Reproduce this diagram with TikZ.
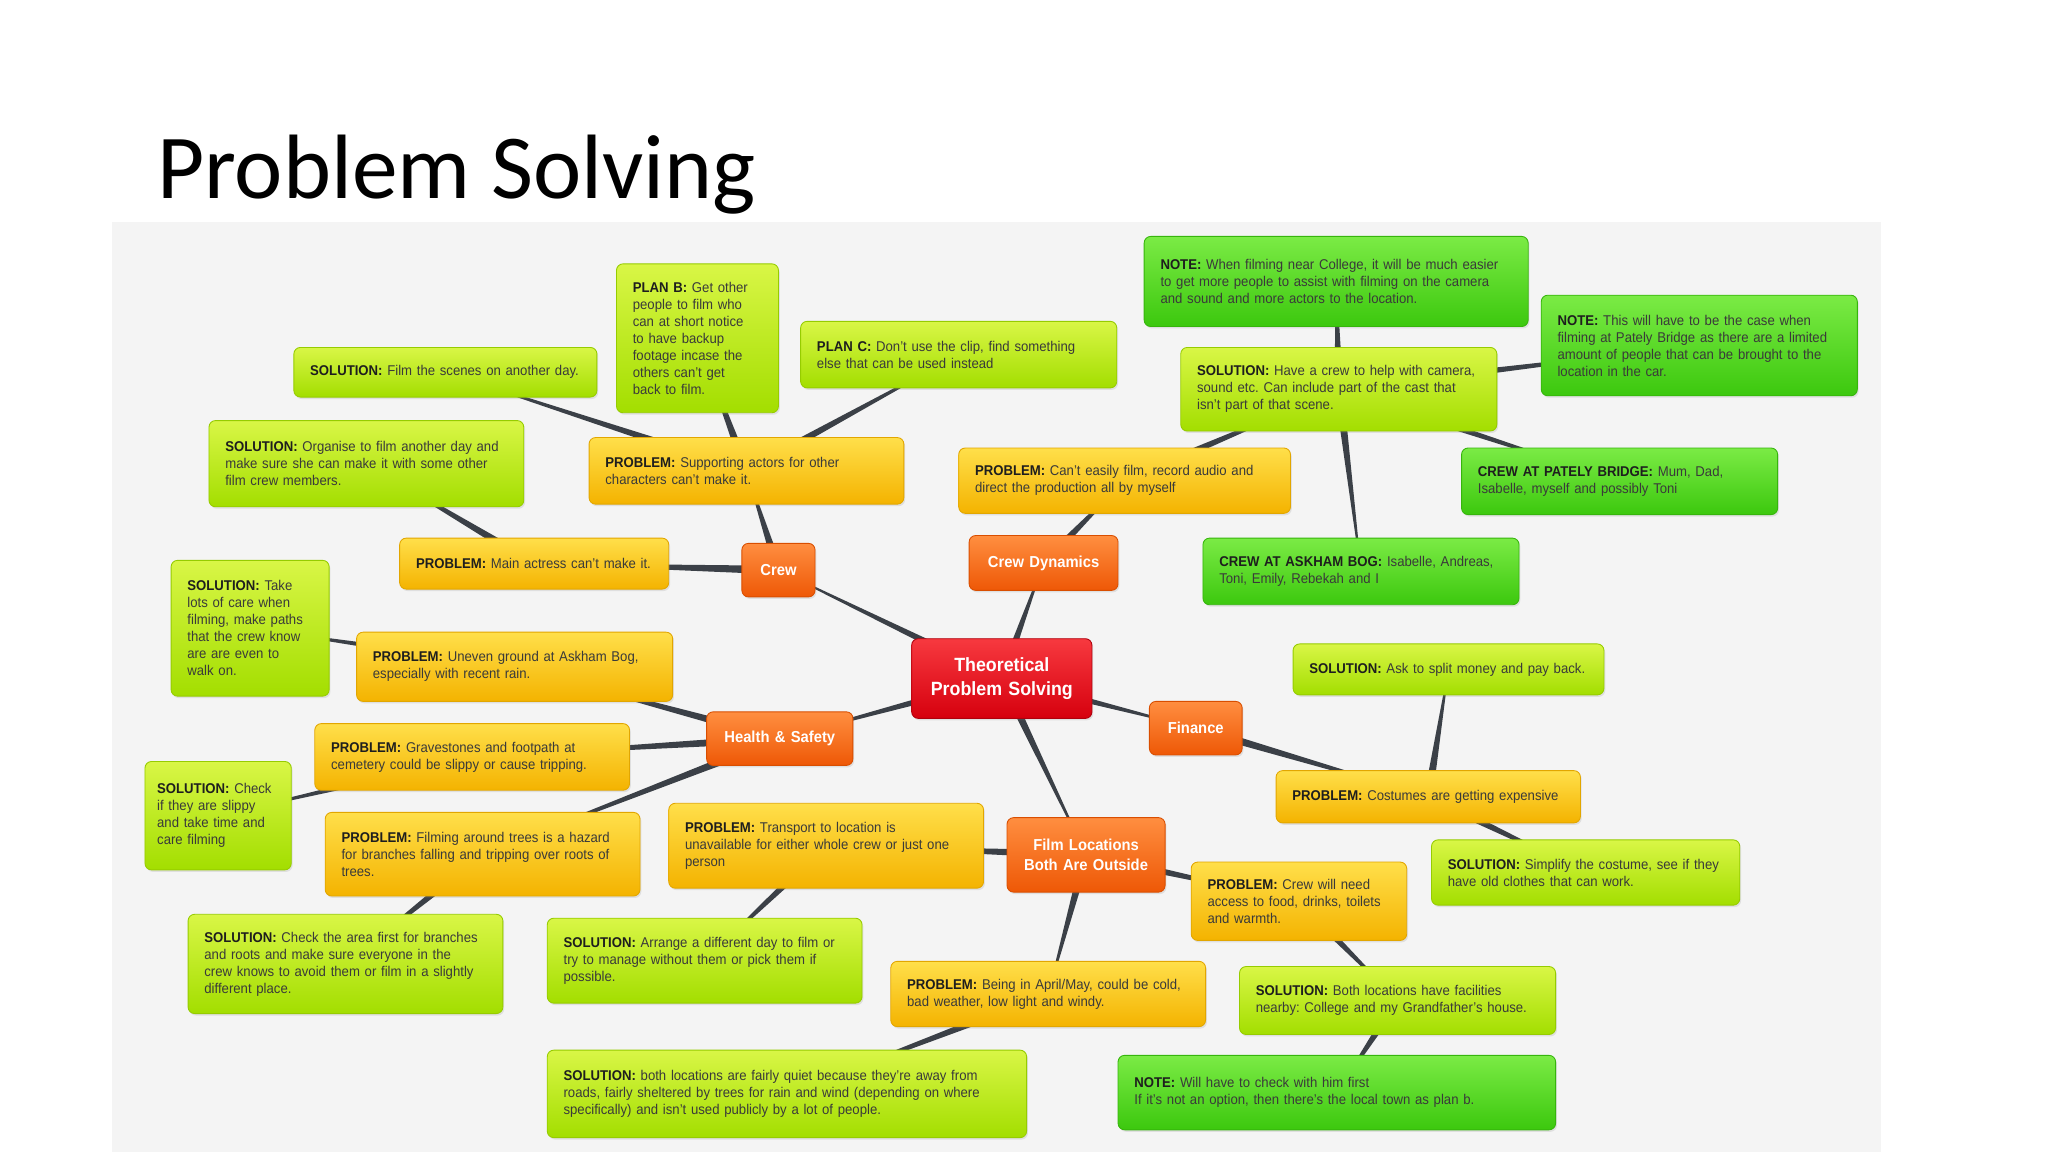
\documentclass[tikz,border=0pt]{standalone}
\usepackage{fontspec}
\setmainfont{Liberation Sans}[FakeStretch=0.93]
\newfontfamily\titlefont{Carlito}
\usetikzlibrary{calc,shadows}
\pgfdeclarelayer{bg}
\pgfdeclarelayer{lnk}
\pgfsetlayers{bg,lnk,main}
\frenchspacing
\definecolor{panel}{HTML}{F4F4F4}
\definecolor{txt}{HTML}{3A3A3A}
\definecolor{lbc}{HTML}{1E1E1E}
\definecolor{linkc}{HTML}{3B4047}
\definecolor{probT}{HTML}{FFDF4A}
\definecolor{probB}{HTML}{F4B300}
\definecolor{probD}{HTML}{E2A600}
\definecolor{solT}{HTML}{D9F646}
\definecolor{solB}{HTML}{A3DE00}
\definecolor{solD}{HTML}{96CC00}
\definecolor{noteT}{HTML}{7BEB45}
\definecolor{noteB}{HTML}{3CC80E}
\definecolor{noteD}{HTML}{36B50C}
\definecolor{catT}{HTML}{FF8E40}
\definecolor{catB}{HTML}{EE5806}
\definecolor{catD}{HTML}{D94E00}
\definecolor{rootT}{HTML}{F7393F}
\definecolor{rootB}{HTML}{D6000E}
\definecolor{rootD}{HTML}{B0000C}
\newcommand\lb[1]{{\bfseries\color{lbc}#1}}
\newcommand\mmbox[7]{%
  \pgfmathsetmacro\mmw{(#5-#3)*0.6}%
  \pgfmathsetmacro\mmh{(#6-#4)*0.6}%
  \pgfmathsetmacro\mmt{(#5-#3)*0.6-15}%
  \node[minimum width=\mmw pt, minimum height=\mmh pt, text width=\mmt pt, #1] (#2) at ({(#3+#5)/2},{(#4+#6)/2}) {#7};}
\newcommand\lnk[2]{\fill[linkc] ($(#1.center)!2pt!90:(#2.center)$) -- ($(#2.center)!0.2pt!-90:(#1.center)$) -- ($(#2.center)!0.2pt!90:(#1.center)$) -- ($(#1.center)!2pt!-90:(#2.center)$) -- cycle;}
\tikzset{
  box/.style={rounded corners=3pt, align=left, inner xsep=7.5pt, inner ysep=2pt, line width=0.4pt,
    font=\fontsize{6.5}{7.8}\selectfont, text=txt,
    drop shadow={opacity=0.18, shadow xshift=0.6pt, shadow yshift=-0.9pt}},
  prob/.style={box, draw=probD, top color=probT, bottom color=probB},
  sol/.style={box, draw=solD, top color=solT, bottom color=solB},
  note/.style={box, draw=noteD, top color=noteT, bottom color=noteB},
  cat/.style={box, align=center, text=white, draw=catD, top color=catT, bottom color=catB,
    font=\bfseries\fontsize{7.3}{9}\selectfont},
  root/.style={box, align=center, text=white, draw=rootD, top color=rootT, bottom color=rootB,
    font=\bfseries\fontsize{8.8}{11.4}\selectfont},
}
\begin{document}
\begin{tikzpicture}[x=0.6pt,y=-0.6pt]
\useasboundingbox (0,0) rectangle (1568,882);
\begin{pgfonlayer}{bg}
\fill[white] (0,0) rectangle (1568,882);
\fill[panel] (86,170) rectangle (1440,882);
\end{pgfonlayer}
\node[anchor=base west, inner sep=0pt, font=\titlefont\fontsize{42}{48}\selectfont] (title) at (120,152) {Problem Solving};

% root and categories
\mmbox{root}{root}{698}{489}{836}{550}{Theoretical\\Problem Solving}
\mmbox{cat}{crew}{568}{416}{624}{457}{Crew}
\mmbox{cat}{cdyn}{742}{410}{856}{452}{Crew Dynamics}
\mmbox{cat}{hs}{541}{545}{653}{586}{Health \& Safety}
\mmbox{cat}{fin}{880}{537}{951}{578}{Finance}
\mmbox{cat}{film}{771}{626}{892}{683}{Film Locations\\Both Are Outside}

% Crew branch
\mmbox{sol}{solA}{225}{266}{457}{304}{\lb{SOLUTION:} Film the scenes on another day.}
\mmbox{sol}{planB}{472}{202}{596}{316}{\lb{PLAN B:} Get other\\people to film who\\can at short notice\\to have backup\\footage incase the\\others can't get\\back to film.}
\mmbox{sol}{planC}{613}{246}{855}{297}{\lb{PLAN C:} Don't use the clip, find something\\else that can be used instead}
\mmbox{sol}{solB}{160}{322}{401}{388}{\lb{SOLUTION:} Organise to film another day and\\make sure she can make it with some other\\film crew members.}
\mmbox{prob}{supp}{451}{335}{692}{386}{\lb{PROBLEM:} Supporting actors for other\\characters can't make it.}
\mmbox{prob}{actress}{306}{412}{512}{451}{\lb{PROBLEM:} Main actress can't make it.}

% Crew dynamics branch
\mmbox{note}{noteCol}{876}{181}{1170}{250}{\lb{NOTE:} When filming near College, it will be much easier\\to get more people to assist with filming on the camera\\and sound and more actors to the location.}
\mmbox{sol}{solCrew}{904}{266}{1146}{330}{\lb{SOLUTION:} Have a crew to help with camera,\\sound etc. Can include part of the cast that\\isn't part of that scene.}
\mmbox{note}{notePat}{1180}{226}{1422}{303}{\lb{NOTE:} This will have to be the case when\\filming at Pately Bridge as there are a limited\\amount of people that can be brought to the\\location in the car.}
\mmbox{prob}{probFilm}{734}{343}{988}{393}{\lb{PROBLEM:} Can't easily film, record audio and\\direct the production all by myself}
\mmbox{note}{crewPat}{1119}{343}{1361}{394}{\lb{CREW AT PATELY BRIDGE:} Mum, Dad,\\Isabelle, myself and possibly Toni}
\mmbox{note}{crewAsk}{921}{412}{1163}{463}{\lb{CREW AT ASKHAM BOG:} Isabelle, Andreas,\\Toni, Emily, Rebekah and I}

% Health & Safety branch
\mmbox{sol}{solCare}{131}{429}{252}{533}{\lb{SOLUTION:} Take\\lots of care when\\filming, make paths\\that the crew know\\are are even to\\walk on.}
\mmbox{prob}{uneven}{273}{484}{515}{537}{\lb{PROBLEM:} Uneven ground at Askham Bog,\\especially with recent rain.}
\mmbox{prob}{graves}{241}{554}{482}{605}{\lb{PROBLEM:} Gravestones and footpath at\\cemetery could be slippy or cause tripping.}
\mmbox{sol, inner xsep=5.5pt, text width=56pt}{solSlip}{111}{583}{223}{666}{\lb{SOLUTION:} Check\\if they are slippy\\and take time and\\care filming}
\mmbox{prob}{trees}{249}{622}{490}{686}{\lb{PROBLEM:} Filming around trees is a hazard\\for branches falling and tripping over roots of\\trees.}
\mmbox{sol}{solArea}{144}{700}{385}{776}{\lb{SOLUTION:} Check the area first for branches\\and roots and make sure everyone in the\\crew knows to avoid them or film in a slightly\\different place.}

% Finance branch
\mmbox{sol}{solSplit}{990}{493}{1228}{532}{\lb{SOLUTION:} Ask to split money and pay back.}
\mmbox{prob}{costume}{977}{590}{1210}{630}{\lb{PROBLEM:} Costumes are getting expensive}
\mmbox{sol}{solSimp}{1096}{643}{1332}{693}{\lb{SOLUTION:} Simplify the costume, see if they\\have old clothes that can work.}

% Film locations branch
\mmbox{prob}{transport}{512}{615}{753}{680}{\lb{PROBLEM:} Transport to location is\\unavailable for either whole crew or just one\\person}
\mmbox{sol}{solArr}{419}{703}{660}{768}{\lb{SOLUTION:} Arrange a different day to film or\\try to manage without them or pick them if\\possible.}
\mmbox{prob}{food}{912}{660}{1077}{720}{\lb{PROBLEM:} Crew will need\\access to food, drinks, toilets\\and warmth.}
\mmbox{sol}{solFac}{949}{740}{1191}{792}{\lb{SOLUTION:} Both locations have facilities\\nearby: College and my Grandfather's house.}
\mmbox{note}{noteChk}{856}{808}{1191}{865}{\lb{NOTE:} Will have to check with him first\\If it's not an option, then there's the local town as plan b.}
\mmbox{prob}{april}{682}{736}{923}{786}{\lb{PROBLEM:} Being in April/May, could be cold,\\bad weather, low light and windy.}
\mmbox{sol}{solQuiet}{419}{804}{786}{871}{\lb{SOLUTION:} both locations are fairly quiet because they're away from\\roads, fairly sheltered by trees for rain and wind (depending on where\\specifically) and isn't used publicly by a lot of people.}

\begin{pgfonlayer}{lnk}
\lnk{root}{crew}
\lnk{root}{cdyn}
\lnk{root}{hs}
\lnk{root}{fin}
\lnk{root}{film}
\lnk{crew}{actress}
\lnk{crew}{supp}
\lnk{actress}{solB}
\lnk{supp}{solA}
\lnk{supp}{planB}
\lnk{supp}{planC}
\lnk{cdyn}{probFilm}
\lnk{probFilm}{solCrew}
\lnk{solCrew}{noteCol}
\lnk{solCrew}{notePat}
\lnk{solCrew}{crewPat}
\lnk{solCrew}{crewAsk}
\lnk{hs}{uneven}
\lnk{hs}{graves}
\lnk{hs}{trees}
\lnk{uneven}{solCare}
\lnk{graves}{solSlip}
\lnk{trees}{solArea}
\lnk{fin}{costume}
\lnk{costume}{solSplit}
\lnk{costume}{solSimp}
\lnk{film}{transport}
\lnk{film}{food}
\lnk{film}{april}
\lnk{transport}{solArr}
\lnk{april}{solQuiet}
\lnk{food}{solFac}
\lnk{solFac}{noteChk}
\end{pgfonlayer}
\end{tikzpicture}
\end{document}
